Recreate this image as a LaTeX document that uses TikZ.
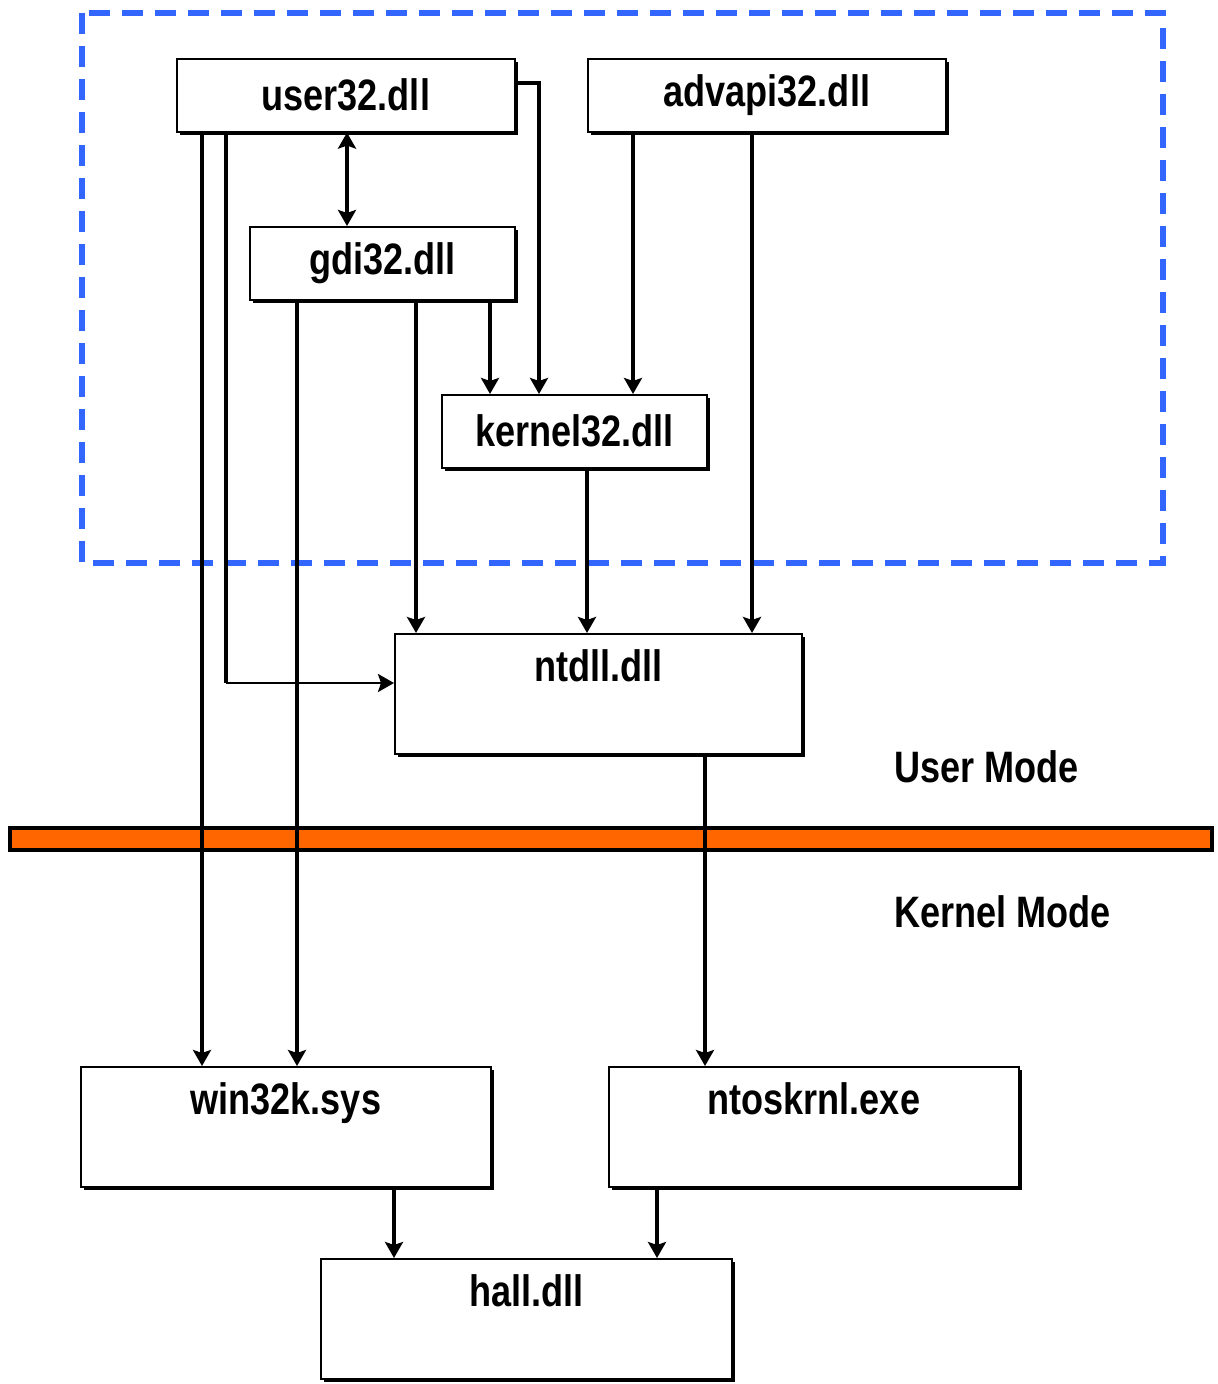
\documentclass[tikz,border=0pt]{standalone}
\usepackage{fontspec}
\setmainfont{Liberation Sans}
\newfontfamily\dllfont[FakeStretch=0.82]{Liberation Sans}
\usepackage{xcolor}
\usetikzlibrary{arrows.meta, positioning, shadows}
\definecolor{modeorange}{HTML}{FF6600}
\definecolor{userblue}{HTML}{3366FF}

\begin{document}
\begin{tikzpicture}[x=0.5pt, y=-0.5pt,
    >={Stealth[length=8pt, width=9pt, inset=1.5pt]},
    dll/.style={draw, line width=0.8pt, fill=white, anchor=north west,
      inner sep=0pt, minimum height=36.5pt,
      font=\dllfont\bfseries\fontsize{22}{26}\selectfont,
      drop shadow={shadow xshift=1.4pt, shadow yshift=-1.4pt,
        opacity=1, fill=black}},
    bigdll/.style={dll, minimum height=0pt, text height=24pt, text depth=36pt},
    flow/.style={line width=2.4pt, ->},
    modelabel/.style={anchor=west, inner sep=0pt,
      font=\dllfont\bfseries\fontsize{22}{26}\selectfont}]
  \useasboundingbox (0,0) rectangle (1217,1384);

  % user mode area and mode boundary
  \draw[userblue, line width=2.6pt, dash pattern=on 10.5pt off 6pt]
    (82,13) rectangle (1163,563);
  \draw[line width=1.6pt, fill=modeorange] (10,828) rectangle (1212,850);

  % libraries
  \node[dll, minimum width=169pt] (user32) at (176,58) {user32.dll};
  \node[dll, minimum width=179pt] (advapi32) at (587,58) {advapi32.dll};
  \node[dll, minimum width=132.5pt] (gdi32) at (249,226) {gdi32.dll};
  \node[dll, minimum width=132.5pt] (kernel32) at (441,394) {kernel32.dll};
  \node[bigdll, minimum width=203.5pt] (ntdll) at (394,633) {ntdll.dll};
  \node[bigdll, minimum width=205pt] (win32k) at (80,1066) {win32k.sys};
  \node[bigdll, minimum width=205pt] (ntoskrnl) at (608,1066) {ntoskrnl.exe};
  \node[bigdll, minimum width=205.5pt] (hal) at (320,1258) {hall.dll};

  \node[modelabel] (usermode) at (894,767) {User Mode};
  \node[modelabel] (kernelmode) at (894,912) {Kernel Mode};

  % straight calls
  \foreach \x/\from/\to in
    {202/user32/win32k, 297/gdi32/win32k, 416/gdi32/ntdll,
     490/gdi32/kernel32, 633/advapi32/kernel32, 752/advapi32/ntdll,
     587/kernel32/ntdll, 705/ntdll/ntoskrnl, 394/win32k/hal,
     657/ntoskrnl/hal} {
    \draw[flow] (\x,0 |- \from.south) -- (\x,0 |- \to.north);
  }
  \draw[flow, <->] (347,0 |- user32.south) -- (347,0 |- gdi32.north);
  \draw[flow, line width=1.8pt] (user32.east |- 0,83) -| (539,0 |- kernel32.north);
  \coordinate (bend) at (226,683);
  \draw[line width=2.4pt] (226,0 |- user32.south) -- (bend);
  \draw[flow, line width=1.4pt] (bend) -- (ntdll.west |- bend);
\end{tikzpicture}
\end{document}
